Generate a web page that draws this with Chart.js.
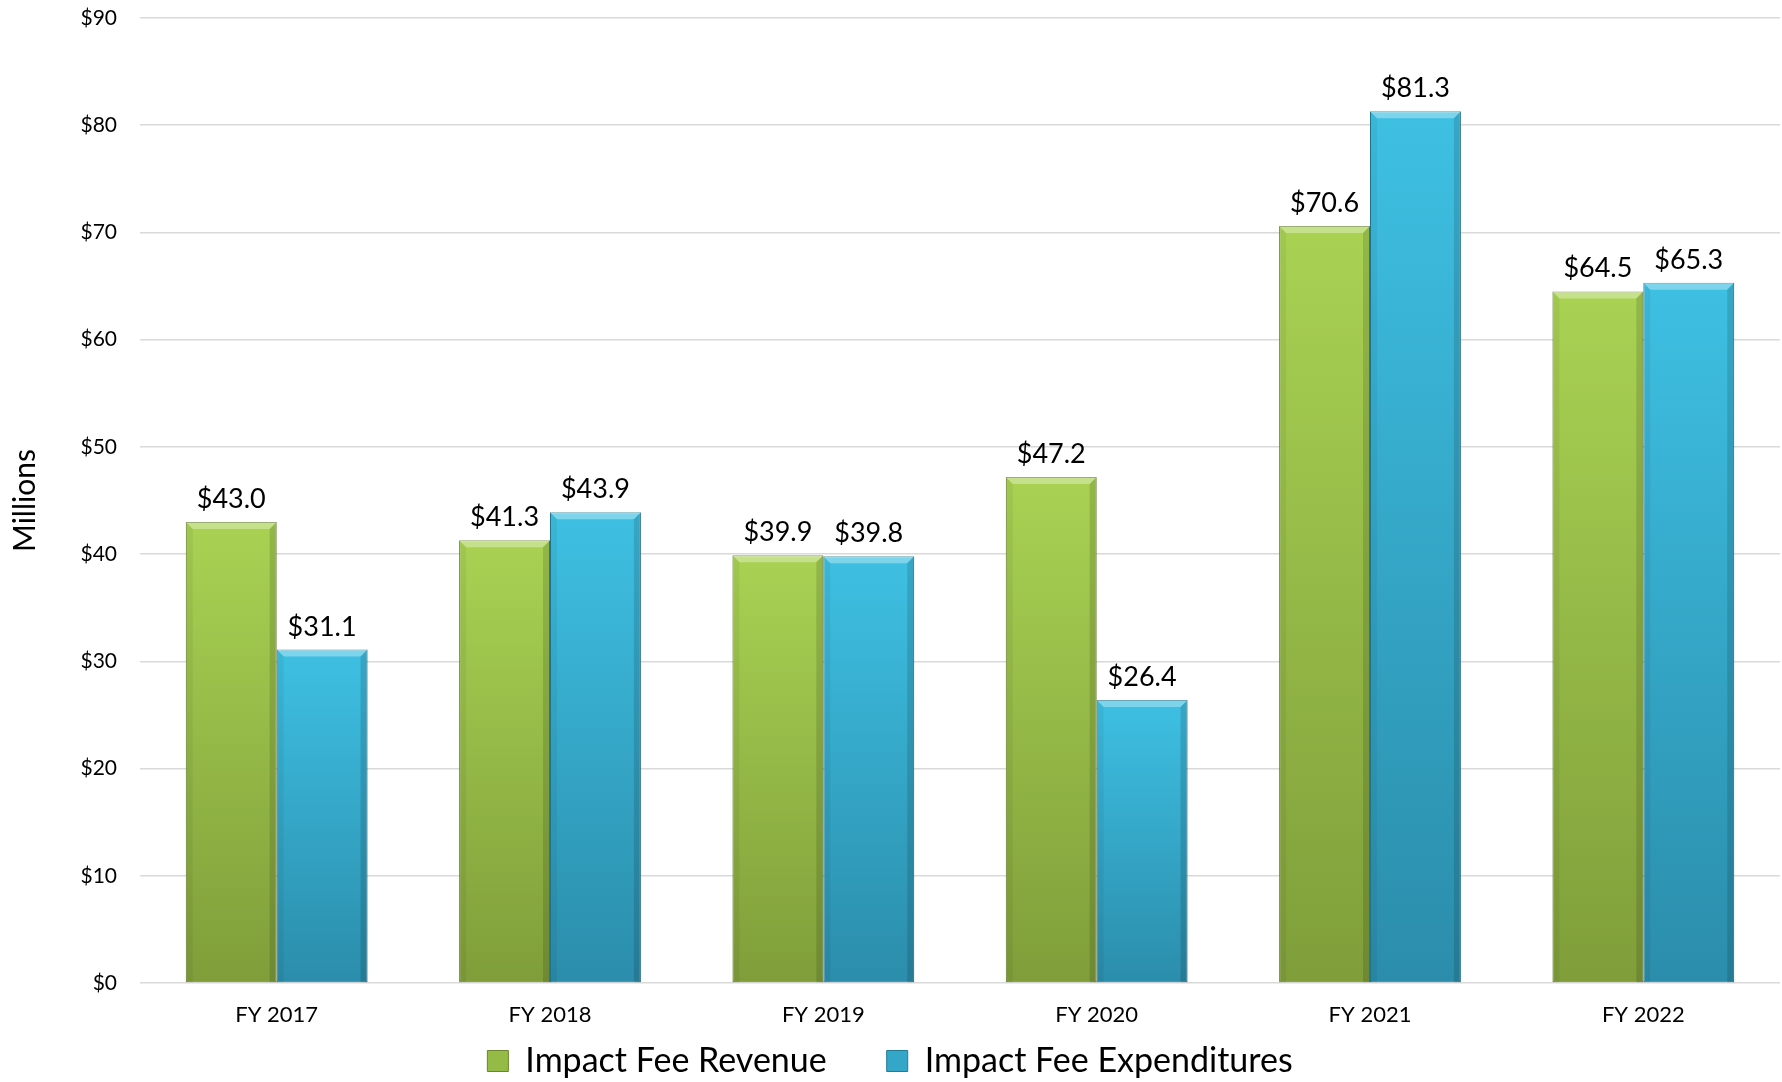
<!DOCTYPE html>
<html>
<head>
<meta charset="utf-8">
<title>Impact Fee Revenue and Expenditures</title>
<script src="https://cdn.jsdelivr.net/npm/chart.js@4.4.1/dist/chart.umd.min.js"></script>
<style>
  html, body { margin: 0; padding: 0; background: #fff; overflow: hidden; }
  #wrap { width: 1782px; height: 1082px; position: relative; }
</style>
</head>
<body>
<div id="wrap"><canvas id="feeChart"></canvas></div>
<script>
// =====================
// Data ($ millions)
// =====================
const fiscalYears = ['FY 2017', 'FY 2018', 'FY 2019', 'FY 2020', 'FY 2021', 'FY 2022'];
const revenue = [43.0, 41.3, 39.9, 47.2, 70.6, 64.5];
const expenditures = [31.1, 43.9, 39.8, 26.4, 81.3, 65.3];
const seriesNames = ['Impact Fee Revenue', 'Impact Fee Expenditures'];
const yMin = 0;
const yMax = 90;
const yStep = 10;

const FONT = 'Lato, "Open Sans", sans-serif';

// vertical gradient per bar, light at the top, darker at the base
function barGradient(topColor, bottomColor) {
  return (context) => {
    const chart = context.chart;
    if (!chart.chartArea || context.type !== 'data') return bottomColor;
    const yScale = chart.scales.y;
    const yTop = yScale.getPixelForValue(context.raw);
    const yBase = yScale.getPixelForValue(0);
    const g = chart.ctx.createLinearGradient(0, yTop, 0, yBase);
    g.addColorStop(0, topColor);
    g.addColorStop(1, bottomColor);
    return g;
  };
}

// =====================
// Bevel + value labels
// =====================
const bevelPlugin = {
  id: 'bevel',
  afterDatasetsDraw(chart) {
    const ctx = chart.ctx;
    ctx.save();
    chart.data.datasets.forEach((ds, i) => {
      const meta = chart.getDatasetMeta(i);
      meta.data.forEach((bar, j) => {
        const { x, y, base, width } = bar.getProps(['x', 'y', 'base', 'width'], true);
        const l = x - width / 2, r = x + width / 2, b = 7;
        // top highlight
        ctx.fillStyle = 'rgba(255,255,255,0.33)';
        ctx.beginPath();
        ctx.moveTo(l, y); ctx.lineTo(r, y); ctx.lineTo(r - b, y + b); ctx.lineTo(l + b, y + b);
        ctx.closePath(); ctx.fill();
        // left edge
        ctx.fillStyle = 'rgba(0,0,0,0.05)';
        ctx.beginPath();
        ctx.moveTo(l, y); ctx.lineTo(l + b, y + b); ctx.lineTo(l + b, base); ctx.lineTo(l, base);
        ctx.closePath(); ctx.fill();
        // right edge
        ctx.fillStyle = 'rgba(0,0,0,0.13)';
        ctx.beginPath();
        ctx.moveTo(r, y); ctx.lineTo(r - b, y + b); ctx.lineTo(r - b, base); ctx.lineTo(r, base);
        ctx.closePath(); ctx.fill();

        // value label
        ctx.fillStyle = '#000';
        ctx.font = '27px ' + FONT;
        ctx.textAlign = 'center';
        ctx.textBaseline = 'alphabetic';
        ctx.fillText('$' + ds.data[j].toFixed(1), x, y - 14);
      });
    });
    ctx.restore();
  }
};

const ctx = document.getElementById('feeChart').getContext('2d');
const chart = new Chart(ctx, {
  type: 'bar',
  data: {
    labels: fiscalYears,
    datasets: [
      {
        label: seriesNames[0],
        data: revenue,
        backgroundColor: barGradient('#a9d253', '#7f9e3a'),
        borderColor: '#6b8430',
        borderWidth: 1,
        borderSkipped: false
      },
      {
        label: seriesNames[1],
        data: expenditures,
        backgroundColor: barGradient('#3ec0e3', '#2b8dab'),
        borderColor: '#237a94',
        borderWidth: 1,
        borderSkipped: false
      }
    ]
  },
  options: {
    responsive: true,
    maintainAspectRatio: false,
    animation: false,
    layout: { padding: { top: 18, right: 2, left: 0, bottom: 0 } },
    datasets: { bar: { categoryPercentage: 0.665, barPercentage: 1.0 } },
    plugins: {
      tooltip: { enabled: false },
      legend: {
        position: 'bottom',
        maxHeight: 98,
        labels: {
          color: '#000',
          font: { family: FONT, size: 34 },
          boxWidth: 21,
          boxHeight: 21,
          padding: 60,
          generateLabels(chart) {
            const fills = ['#93bb45', '#34a6c8'];
            const strokes = ['#6b8430', '#237a94'];
            return chart.data.datasets.map((ds, i) => ({
              text: ds.label,
              fillStyle: fills[i],
              strokeStyle: strokes[i],
              lineWidth: 1,
              fontColor: '#000',
              datasetIndex: i
            }));
          }
        }
      }
    },
    scales: {
      x: {
        grid: { display: false },
        border: { display: false },
        // thin axis box; the mirrored labels are pushed down under the plot
        ticks: { color: '#000', font: { family: FONT, size: 22 }, mirror: true, padding: -45 },
        afterFit(scale) { scale.height = 1; }
      },
      y: {
        min: yMin,
        max: yMax,
        border: { display: false },
        grid: { color: '#d9d9d9', lineWidth: 1.5, drawTicks: false },
        ticks: {
          stepSize: yStep,
          color: '#000',
          padding: 23,
          font: { family: FONT, size: 21 },
          callback: (v) => '$' + v
        },
        title: {
          display: true,
          text: 'Millions',
          color: '#000',
          font: { family: FONT, size: 30 },
          padding: { top: 7, bottom: 0 }
        },
        afterFit(scale) {
          scale.width = 140;
          scale.paddingTop = 0;
          scale.paddingBottom = 0;
        }
      }
    }
  },
  plugins: [bevelPlugin]
});
</script>
</body>
</html>
